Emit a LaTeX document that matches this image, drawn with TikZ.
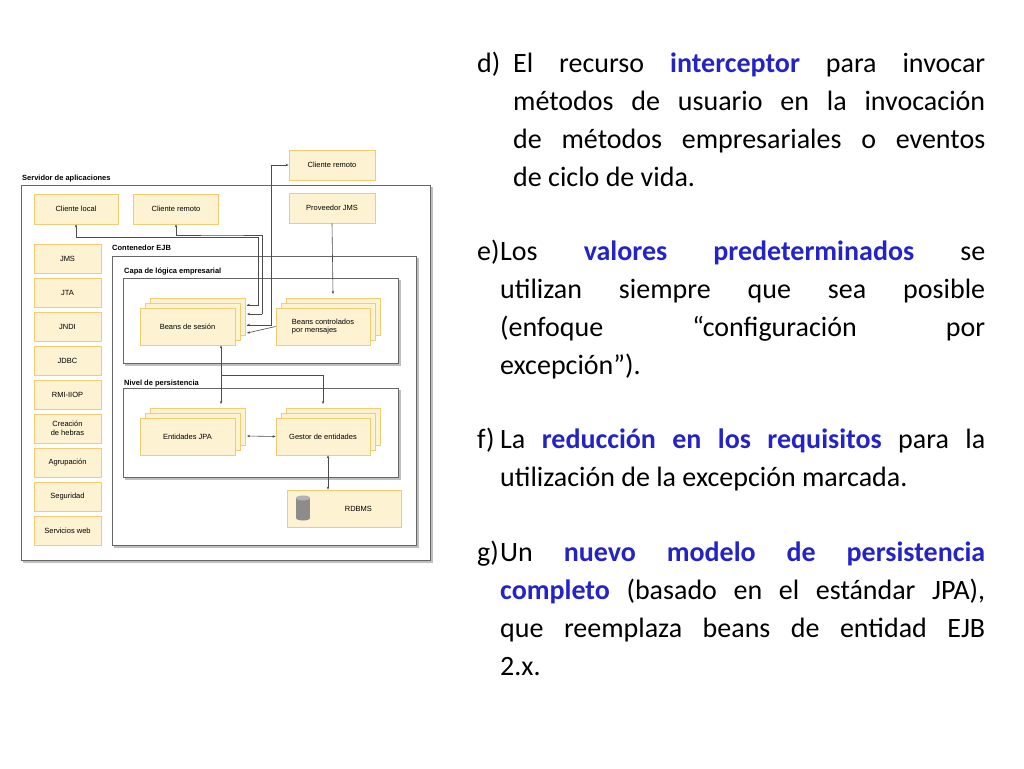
\documentclass[tikz,border=0pt]{standalone}
\usepackage{fontspec}
\setmainfont{Carlito}
\newfontfamily\diagfont{Liberation Sans}
\usetikzlibrary{arrows.meta}
\definecolor{boxfill}{HTML}{FDF2D2}
\definecolor{boxedge}{HTML}{F2CC72}
\definecolor{kwblue}{HTML}{2323C8}
\begin{document}
\begin{tikzpicture}[x=1pt,y=-1pt,
    ybox/.style={fill=boxfill,draw=boxedge,line width=0.8pt,minimum height=30,inner sep=1pt,
      font=\diagfont\fontsize{7.5}{8.5}\selectfont,align=center},
    frame/.style={draw=black!60,line width=0.7pt},
    shade/.style={draw=black!25,line width=1.5pt},
    title/.style={font=\diagfont\bfseries\fontsize{7.5}{9}\selectfont,anchor=base west,inner sep=0},
    link/.style={draw=black!70,line width=0.6pt},
    tip/.style={-{Stealth[length=3pt,width=2.5pt]}},
    tips/.style={{Stealth[length=3pt,width=2.5pt]}-{Stealth[length=3pt,width=2.5pt]}},
    txt/.style={font=\fontsize{28}{38}\selectfont,inner sep=0,anchor=north west},
    lbl/.style={font=\fontsize{28}{38}\selectfont,inner sep=0,anchor=base west},
  ]
  \useasboundingbox (0,0) rectangle (1024,768);
  % Parameters
  \def\sh{5} % offset of the stacked boxes

  % frames
  \node[title] at (22,180) {Servidor de aplicaciones};
  \draw[shade] (24,188) rectangle (432,562);
  \draw[frame,fill=white] (21,185) rectangle (430,560);
  \node[title] at (112,250) {Contenedor EJB};
  \draw[shade] (115,259) rectangle (418,547);
  \draw[frame,fill=white] (112,256) rectangle (416,545);
  \node[title] at (124,273) {Capa de lógica empresarial};
  \draw[shade] (126,281) rectangle (400,365);
  \draw[frame,fill=white] (123,278) rectangle (398,363);
  \node[title] at (124,385) {Nivel de persistencia};
  \draw[shade] (126,391) rectangle (400,479);
  \draw[frame,fill=white] (123,388) rectangle (398,477);

  % clients
  \node[ybox,minimum width=84] (local) at (76,209) {Cliente local};
  \node[ybox,minimum width=85] (remote) at (176,209) {Cliente remoto};
  \node[ybox,minimum width=86] (jmsprov) at (332,208) {Proveedor JMS};
  \node[ybox,minimum width=86] (extremote) at (332,165) {Cliente remoto};

  % services
  \foreach \lbl [count=\i] in {JMS,JTA,JNDI,JDBC,RMI-IIOP,{Creación\\de hebras},Agrupación,Seguridad,Servicios web}
    \node[ybox,minimum width=67,minimum height=29] (svc\i) at (67.5,258.5+34*\i-34) {\lbl};

  % stacked beans
  \foreach \k in {2,1} {
    \fill[boxfill,draw=boxedge,line width=0.8pt] (140+\sh*\k,308-\sh*\k) rectangle +(95,37);
    \fill[boxfill,draw=boxedge,line width=0.8pt] (276+\sh*\k,308-\sh*\k) rectangle +(94,37);
    \fill[boxfill,draw=boxedge,line width=0.8pt] (140+\sh*\k,418-\sh*\k) rectangle +(95,37);
    \fill[boxfill,draw=boxedge,line width=0.8pt] (276+\sh*\k,418-\sh*\k) rectangle +(94,37);
  }
  \node[ybox,minimum width=95,minimum height=37] (session) at (187.5,326.5) {Beans de sesión};
  \node[ybox,minimum width=94,minimum height=37,align=left] (mdb) at (323,326.5) {Beans controlados\\por mensajes};
  \node[ybox,minimum width=95,minimum height=37] (jpa) at (187.5,436.5) {Entidades JPA};
  \node[ybox,minimum width=94,minimum height=37] (manager) at (323,436.5) {Gestor de entidades};
  \node[ybox,minimum width=114,minimum height=37,anchor=west] (rdbms) at (287,508.5) {\hspace*{28pt}RDBMS};
  \fill[black!45] (296,498) rectangle (310,518);
  \fill[black!30] (303,498) ellipse (7 and 2.5);
  \fill[black!45] (303,518) ellipse (7 and 2.5);

  % connectors
  \coordinate (sesin) at (247,305);
  \draw[link,tip] (sesin) -| (258,237) -| (local.south);
  \draw[link,tip] (258,305) -- (sesin);
  \draw[link,tip] (262,314) |- (225,235) -- (176,235) -- (remote.south);
  \draw[link,tip] (262,314) -- (247,314);
  \draw[link,tip] (247,325) -| (271,165) -- (extremote.west);
  \draw[link,tip] (271,325) -- (247,325);
  \draw[link,tip] (jmsprov.south) -- (333,294);
  \draw[link,tip] (mdb.west) -- (247,333);
  \draw[link,tip] (221,375) -- (session.south -| 221,0);
  \draw[link,tip] (221,375) -- (221,404);
  \draw[link,tip] (221,375) -| (323,404);
  \draw[link,tips] (247,436) -- (manager.west);
  \draw[link,tips] (manager.south -| 328,0) -- (rdbms.north -| 328,0);

  % text
  \node[lbl] at (477,72) {d)};
  \node[txt,text width=472,align=justify] at (513,53) {El recurso {\color{kwblue}\bfseries interceptor} para invocar\linebreak métodos de usuario en la invocación\linebreak de métodos empresariales o eventos\linebreak de ciclo de vida.};
  \node[lbl] at (477,260) {e)};
  \node[txt,text width=485,align=justify] at (500,241) {Los {\color{kwblue}\bfseries valores predeterminados} se\linebreak utilizan siempre que sea posible\linebreak (enfoque “configuración por\linebreak excepción”).};
  \node[lbl] at (477,448) {f)};
  \node[txt,text width=485,align=justify] at (500,429) {La {\color{kwblue}\bfseries reducción en los requisitos} para la\linebreak utilización de la excepción marcada.};
  \node[lbl] at (477,561) {g)};
  \node[txt,text width=485,align=justify] at (500,542) {Un {\color{kwblue}\bfseries nuevo modelo de persistencia\linebreak completo} (basado en el estándar JPA),\linebreak que reemplaza beans de entidad EJB\linebreak 2.x.};
\end{tikzpicture}
\end{document}
